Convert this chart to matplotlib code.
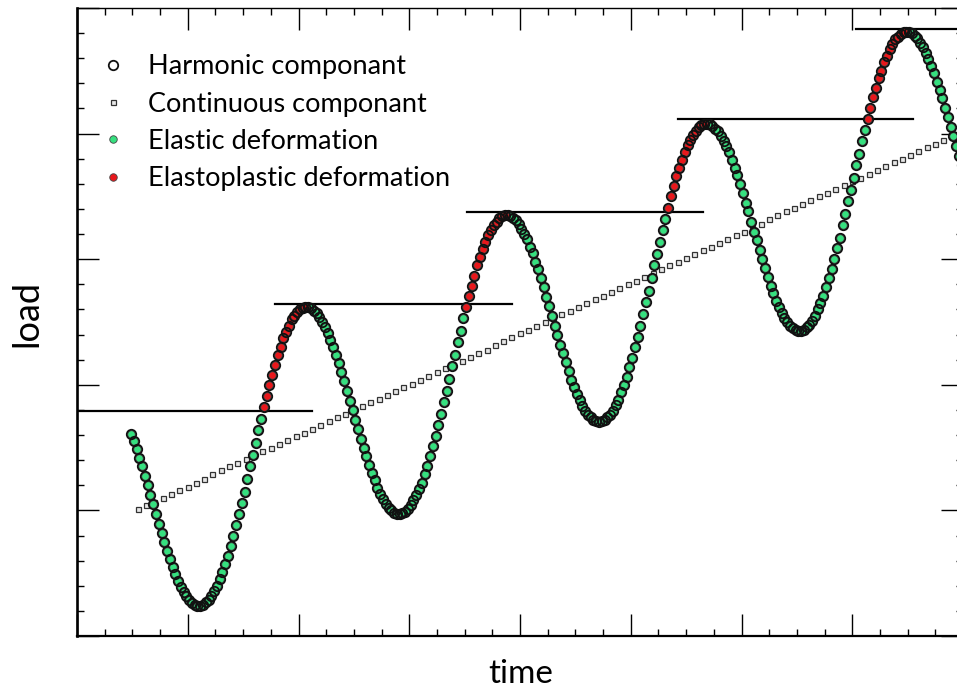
import numpy as np
import matplotlib
matplotlib.use('Agg')
import matplotlib.pyplot as plt
from matplotlib.ticker import MultipleLocator

# harmonic component: load at each sample
t_start, t_step = 0.488, 0.025
load = [
    1.61, 1.55, 1.49, 1.42, 1.35, 1.27, 1.20, 1.12, 1.05, 0.97, 0.89, 0.82,
    0.75, 0.68, 0.61, 0.55, 0.49, 0.44, 0.39, 0.35, 0.32, 0.29, 0.26, 0.25,
    0.24, 0.24, 0.25, 0.27, 0.29, 0.32, 0.36, 0.40, 0.45, 0.51, 0.57, 0.64,
    0.72, 0.80, 0.88, 0.97, 1.06, 1.15, 1.25, 1.35, 1.44, 1.54, 1.64, 1.73,
    1.82, 1.91, 2.00, 2.08, 2.16, 2.24, 2.30, 2.37,
    2.42, 2.47, 2.52, 2.55, 2.58, 2.60, 2.61, 2.62, 2.62, 2.61, 2.59, 2.57,
    2.54, 2.50, 2.46, 2.41, 2.36, 2.30, 2.24, 2.17, 2.10, 2.03, 1.95, 1.87,
    1.80, 1.72, 1.65, 1.57, 1.50, 1.43, 1.36, 1.30, 1.24, 1.18, 1.13, 1.09,
    1.05, 1.02, 1.00, 0.98, 0.97, 0.97, 0.98, 0.99, 1.01, 1.04, 1.08, 1.12,
    1.17, 1.22, 1.29, 1.35, 1.43, 1.51, 1.59, 1.68, 1.77, 1.86, 1.95, 2.05,
    2.15, 2.24, 2.34, 2.43, 2.53, 2.62, 2.71, 2.79, 2.87, 2.95, 3.02, 3.08,
    3.14, 3.19, 3.23, 3.27, 3.30, 3.33, 3.34, 3.35, 3.35, 3.34, 3.33, 3.31,
    3.28, 3.24, 3.20, 3.16, 3.10, 3.05, 2.98, 2.92, 2.85, 2.78, 2.70, 2.63,
    2.55, 2.47, 2.40, 2.32, 2.25, 2.18, 2.11, 2.04, 1.98, 1.93, 1.88, 1.83,
    1.79, 1.76, 1.74, 1.72, 1.71, 1.70, 1.71, 1.72, 1.74, 1.76, 1.79, 1.84,
    1.88, 1.94, 2.00, 2.06, 2.14, 2.21, 2.30, 2.38, 2.47, 2.56, 2.66, 2.75,
    2.85, 2.95, 3.04, 3.14, 3.23, 3.32, 3.41, 3.50, 3.58, 3.66, 3.73, 3.79,
    3.85, 3.91, 3.95, 3.99, 4.02, 4.05, 4.07, 4.08, 4.08, 4.08, 4.06, 4.04,
    4.02, 3.98, 3.94, 3.90, 3.85, 3.79, 3.73, 3.67, 3.60, 3.53, 3.45, 3.38,
    3.30, 3.22, 3.15, 3.07, 3.00, 2.93, 2.86, 2.79, 2.73, 2.67, 2.62, 2.57,
    2.53, 2.50, 2.47, 2.45, 2.44, 2.43, 2.43, 2.44, 2.46, 2.48, 2.51, 2.55,
    2.60, 2.65, 2.71, 2.78, 2.85, 2.92, 3.00, 3.09, 3.17, 3.27, 3.36, 3.46,
    3.55, 3.65, 3.75, 3.84, 3.94, 4.03, 4.12, 4.20, 4.29, 4.36, 4.44, 4.50,
    4.57, 4.62, 4.67, 4.71, 4.75, 4.77, 4.79, 4.81, 4.81, 4.81, 4.80, 4.78,
    4.76, 4.72, 4.69, 4.64, 4.59, 4.54, 4.48, 4.41, 4.35, 4.28, 4.20, 4.13,
    4.05, 3.98, 3.90, 3.82, 3.75,
]

# continuous component (every third sample, slightly shifted)
c_start, c_step = 0.548, 0.075
cont = [
    1.01, 1.04, 1.07, 1.10, 1.13, 1.16, 1.19, 1.22, 1.25, 1.29, 1.32, 1.35,
    1.38, 1.41, 1.44, 1.47, 1.50, 1.53, 1.56, 1.59, 1.62, 1.65, 1.68, 1.71,
    1.74, 1.77, 1.80, 1.83, 1.86, 1.89, 1.92, 1.95, 1.98, 2.01, 2.04, 2.07,
    2.10, 2.13, 2.16, 2.19, 2.22, 2.25, 2.28, 2.32, 2.35, 2.38, 2.41, 2.44,
    2.47, 2.50, 2.53, 2.56, 2.59, 2.62, 2.65, 2.68, 2.71, 2.74, 2.77, 2.80,
    2.83, 2.86, 2.89, 2.92, 2.95, 2.98, 3.01, 3.04, 3.07, 3.10, 3.13, 3.16,
    3.19, 3.22, 3.25, 3.28, 3.32, 3.35, 3.38, 3.41, 3.44, 3.47, 3.50, 3.53,
    3.56, 3.59, 3.62, 3.65, 3.68, 3.71, 3.74, 3.77, 3.80, 3.83, 3.86, 3.89,
    3.92, 3.95, 3.98, 4.01,
]

# previous maximum levels (horizontal lines)
levels = [1.793, 2.643, 3.373, 4.117, 4.834]
line_start = [0.0, 1.789, 3.52, 5.43, 7.037]
line_end = [2.12, 3.93, 5.655, 7.546, 8.0]

load = np.array(load)
cont = np.array(cont)
t = t_start + t_step * np.arange(len(load))
tc = c_start + c_step * np.arange(len(cont))

# red = rising and above the previous maximum
rising = np.diff(load, prepend=load[0]) > 0
starts = rising & ~np.roll(rising, 1)
starts[0] = False
seg = np.cumsum(starts)
red = np.zeros(len(load), bool)
for i in range(len(load)):
    if rising[i] and seg[i] >= 1 and load[i] >= levels[seg[i] - 1] - 0.03:
        red[i] = True

plt.rcParams['font.family'] = ['Lato', 'DejaVu Sans']
fig = plt.figure(figsize=(9.57, 6.88), dpi=100)
ax = fig.add_axes([77 / 957, 52 / 688, 886 / 957, 628 / 688])

for y, a, b in zip(levels, line_start, line_end):
    ax.plot([a, b], [y, y], color='black', lw=1.6, zorder=1)

ax.plot(tc, cont, ls='none', marker='s', ms=3.6, mfc='#e8e8e8', mec='#333333', mew=0.9,
        label='Continuous componant', zorder=2)
ax.plot(t[~red], load[~red], ls='none', marker='o', ms=5.4, mfc='#36e07f', mec='#444444',
        mew=0.6, label='Elastic deformation', zorder=3)
ax.plot(t[red], load[red], ls='none', marker='o', ms=5.4, mfc='#e8181c', mec='#444444',
        mew=0.6, label='Elastoplastic deformation', zorder=3)
ax.plot(t, load, ls='none', marker='o', ms=6.8, mfc='none', mec='#111111', mew=1.3,
        label='Harmonic componant', zorder=4)

h, l = ax.get_legend_handles_labels()
order = [3, 0, 1, 2]
ax.legend([h[i] for i in order], [l[i] for i in order], loc='upper left',
          bbox_to_anchor=(0.0254, 0.926), frameon=False, fontsize=19.5, borderpad=0,
          borderaxespad=0, handlelength=1.0, handletextpad=0.8, labelspacing=0.45,
          numpoints=1)

ax.set_xlim(0, 8)
ax.set_ylim(0, 5)
ax.xaxis.set_major_locator(MultipleLocator(1))
ax.xaxis.set_minor_locator(MultipleLocator(0.25))
ax.yaxis.set_major_locator(MultipleLocator(1))
ax.yaxis.set_minor_locator(MultipleLocator(0.2))
ax.tick_params(which='both', direction='in', top=True, right=True,
               labelbottom=False, labelleft=False, width=1.0)
ax.tick_params(which='major', length=16)
ax.tick_params(which='minor', length=5)
for s in ax.spines.values():
    s.set_linewidth(1.6)
ax.spines['top'].set_linewidth(1.0)
ax.spines['left'].set_linewidth(1.9)

ax.set_xlabel('time', fontsize=24, va='baseline')
ax.set_ylabel('load', fontsize=26, va='baseline')
ax.xaxis.set_label_coords(0.5006, -0.0748)
ax.yaxis.set_label_coords(-0.0451, 0.5135)

fig.savefig('out.png', dpi=100)
